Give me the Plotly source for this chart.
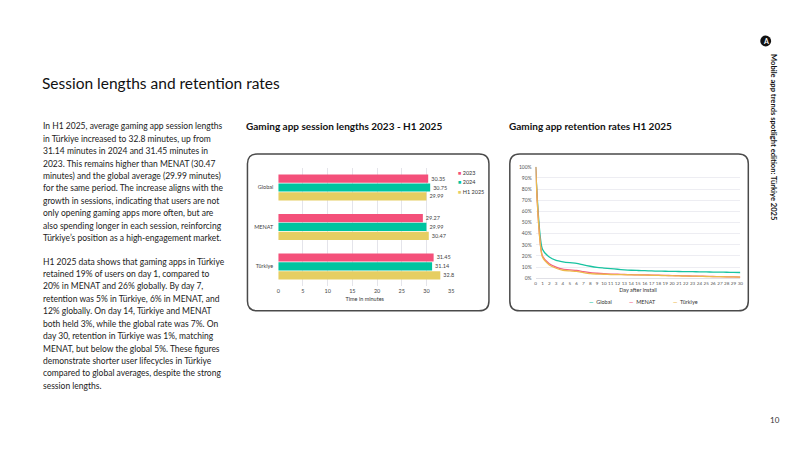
import plotly.graph_objects as go

# ---------------- data ----------------
regions = ["Global", "MENAT", "Türkiye"]
periods = ["2023", "2024", "H1 2025"]
session_2023 = [30.35, 29.27, 31.45]
session_2024 = [30.75, 29.99, 31.14]
session_h1_2025 = [29.99, 30.47, 32.8]
bar_colors = ["#F4507A", "#00C4A0", "#E6CE62"]

days = list(range(0, 31))
ret_global = [100, 26, 19, 16, 14.8, 14, 13.4, 12, 10.8, 9.8, 9.2, 8.6, 8.1, 7.6, 7.2, 7.0, 6.8,
              6.6, 6.4, 6.3, 6.2, 6.1, 6.0, 5.9, 5.8, 5.7, 5.6, 5.5, 5.4, 5.3, 5.2]
ret_menat = [100, 20, 13, 10, 8.2, 7.5, 7.0, 6.0, 5.0, 4.5, 4.1, 3.8, 3.6, 3.4, 3.2, 3.1, 3.0,
             2.9, 2.7, 2.6, 2.4, 2.3, 2.1, 2.0, 1.9, 1.7, 1.6, 1.5, 1.3, 1.2, 1.1]
ret_turkiye = [100, 19, 12, 9, 7.2, 6.6, 6.1, 5.0, 4.1, 3.8, 3.6, 3.4, 3.3, 3.2, 3.1, 3.0, 2.9,
               2.7, 2.6, 2.4, 2.3, 2.1, 2.0, 1.9, 1.8, 1.6, 1.5, 1.4, 1.3, 1.2, 1.1]
line_names = ["Global", "MENAT", "Türkiye"]
line_colors = ["#19C3A0", "#F35F83", "#EDB94C"]

page_title = "Session lengths and retention rates"
chart1_title = "Gaming app session lengths 2023 - H1 2025"
chart2_title = "Gaming app retention rates H1 2025"
side_text = "Mobile app trends spotlight edition: Türkiye 2025"
page_number = "10"

para1 = [
    "In H1 2025, average gaming app session lengths",
    "in Türkiye increased to 32.8 minutes, up from",
    "31.14 minutes in 2024 and 31.45 minutes in",
    "2023. This remains higher than MENAT (30.47",
    "minutes) and the global average (29.99 minutes)",
    "for the same period. The increase aligns with the",
    "growth in sessions, indicating that users are not",
    "only opening gaming apps more often, but are",
    "also spending longer in each session, reinforcing",
    "Türkiye’s position as a high-engagement market.",
]
para2 = [
    "H1 2025 data shows that gaming apps in Türkiye",
    "retained 19% of users on day 1, compared to",
    "20% in MENAT and 26% globally. By day 7,",
    "retention was 5% in Türkiye, 6% in MENAT, and",
    "12% globally. On day 14, Türkiye and MENAT",
    "both held 3%, while the global rate was 7%. On",
    "day 30, retention in Türkiye was 1%, matching",
    "MENAT, but below the global 5%. These figures",
    "demonstrate shorter user lifecycles in Türkiye",
    "compared to global averages, despite the strong",
    "session lengths.",
]

W, H = 800, 450
FONT = "Lato"
TXT = "#222222"


def px(x):
    return x / W


def py(y):
    return 1 - y / H


fig = go.Figure()

# ---------------- bar chart ----------------
for name, vals, col in zip(periods, [session_2023, session_2024, session_h1_2025], bar_colors):
    fig.add_trace(go.Bar(
        y=regions, x=vals, name=name, orientation="h",
        marker=dict(color=col, line=dict(width=0)),
        text=[f"{v:g}" for v in vals], textposition="outside",
        textfont=dict(size=5.5, color="#444", family=FONT),
        cliponaxis=False, xaxis="x", yaxis="y", showlegend=False,
    ))

# ---------------- retention lines ----------------
for name, vals, col in zip(line_names, [ret_global, ret_menat, ret_turkiye], line_colors):
    fig.add_trace(go.Scatter(
        x=days, y=vals, name=name, mode="lines",
        line=dict(color=col, width=1.3, shape="spline", smoothing=0.6),
        xaxis="x2", yaxis="y2", showlegend=False,
    ))

fig.update_layout(
    width=W, height=H, margin=dict(l=0, r=0, t=0, b=0),
    paper_bgcolor="white", plot_bgcolor="white",
    font=dict(family=FONT, color=TXT),
    barmode="group", bargap=0.32, bargroupgap=0.08,
    xaxis=dict(domain=[px(278), px(452)], range=[0, 35], dtick=5,
               showgrid=True, gridcolor="#E4E4EA", gridwidth=1, zeroline=False,
               showline=False, tickfont=dict(size=5.5, color="#444"),
               ticks="", anchor="y",
               title=dict(text="Time in minutes", font=dict(size=5.5, color="#333"), standoff=4)),
    yaxis=dict(domain=[py(287), py(167)], autorange="reversed", anchor="x",
               showgrid=False, zeroline=False, showline=False,
               tickfont=dict(size=5.5, color="#444"), ticks="", ticklabelstandoff=4),
    xaxis2=dict(domain=[px(537), px(743)], range=[0, 30], dtick=1, anchor="y2", tickangle=0,
                showgrid=False, zeroline=False, showline=True, linecolor="#E0E0E6", linewidth=1,
                tickfont=dict(size=4.6, color="#555"), ticks="",
                title=dict(text="Day after install", font=dict(size=5.5, color="#333"), standoff=3)),
    yaxis2=dict(domain=[py(279), py(166)], range=[0, 100], dtick=10, anchor="x2",
                ticksuffix="%", showgrid=True, gridcolor="#EDEDF2", gridwidth=1,
                zeroline=False, showline=False,
                tickfont=dict(size=5, color="#555"), ticks="", ticklabelstandoff=3),
)


def rounded_rect(x0, y0, x1, y1, r):
    # coordinates in pixels -> path in paper fractions
    pts = [
        ("M", [(x0 + r, y0)]),
        ("L", [(x1 - r, y0)]),
        ("Q", [(x1, y0), (x1, y0 + r)]),
        ("L", [(x1, y1 - r)]),
        ("Q", [(x1, y1), (x1 - r, y1)]),
        ("L", [(x0 + r, y1)]),
        ("Q", [(x0, y1), (x0, y1 - r)]),
        ("L", [(x0, y0 + r)]),
        ("Q", [(x0, y0), (x0 + r, y0)]),
    ]
    s = ""
    for cmd, ps in pts:
        s += cmd + " " + " ".join(f"{px(a):.5f},{py(b):.5f}" for a, b in ps) + " "
    return s + "Z"


shapes = []
for (bx0, bx1) in [(247, 490), (511, 751)]:
    shapes.append(dict(type="path", xref="paper", yref="paper",
                       path=rounded_rect(bx0, 153, bx1, 312, 10),
                       line=dict(color="#4A4A4A", width=1.5), fillcolor="rgba(0,0,0,0)",
                       layer="below"))
# logo circle
shapes.append(dict(type="circle", xref="paper", yref="paper",
                   x0=px(763), x1=px(774), y0=py(44), y1=py(33),
                   fillcolor="#111", line=dict(width=0)))
fig.update_layout(shapes=shapes)

ann = []
ann.append(dict(text=page_title, x=px(38), y=py(81), xanchor="left", yanchor="middle",
                font=dict(size=15.5, color="#111", family=FONT)))
ann.append(dict(text="<b>" + chart1_title + "</b>", x=px(244), y=py(125), xanchor="left",
                yanchor="middle", font=dict(size=10, color="#111", family=FONT)))
ann.append(dict(text="<b>" + chart2_title + "</b>", x=px(508), y=py(125), xanchor="left",
                yanchor="middle", font=dict(size=10, color="#111", family=FONT)))
for i, line in enumerate(para1):
    ann.append(dict(text=line, x=px(39), y=py(125 + 12.6 * i), xanchor="left",
                    yanchor="middle", font=dict(size=8.5, color=TXT, family=FONT)))
for i, line in enumerate(para2):
    ann.append(dict(text=line, x=px(39), y=py(262 + 12.6 * i), xanchor="left",
                    yanchor="middle", font=dict(size=8.5, color=TXT, family=FONT)))
ann.append(dict(text="<b>" + side_text + "</b>", x=px(777), y=py(136), xanchor="center",
                yanchor="middle", textangle=90, font=dict(size=7.6, color="#111", family=FONT)))
ann.append(dict(text="<b>A</b>", x=px(768.5), y=py(38.6), xanchor="center", yanchor="middle",
                font=dict(size=7, color="white", family=FONT)))
ann.append(dict(text=page_number, x=px(778), y=py(423), xanchor="center", yanchor="middle",
                font=dict(size=8, color="#333", family=FONT)))

# bar legend (manual, compact)
for i, (name, col) in enumerate(zip(periods, bar_colors)):
    ann.append(dict(text=f"<span style='color:{col}'>■</span> {name}", x=px(457),
                    y=py(172 + 9.7 * i), xanchor="left", yanchor="middle",
                    font=dict(size=5.5, color="#333", family=FONT)))
# line legend (manual, compact)
for name, col, cx in zip(line_names, line_colors, [589, 629, 673]):
    ann.append(dict(text=f"<span style='color:{col}'><b>—</b></span>  {name}", x=px(cx),
                    y=py(303), xanchor="left", yanchor="middle",
                    font=dict(size=5.5, color="#333", family=FONT)))

for a in ann:
    a.update(xref="paper", yref="paper", showarrow=False)
fig.update_layout(annotations=ann)

fig.write_html("out.html")
